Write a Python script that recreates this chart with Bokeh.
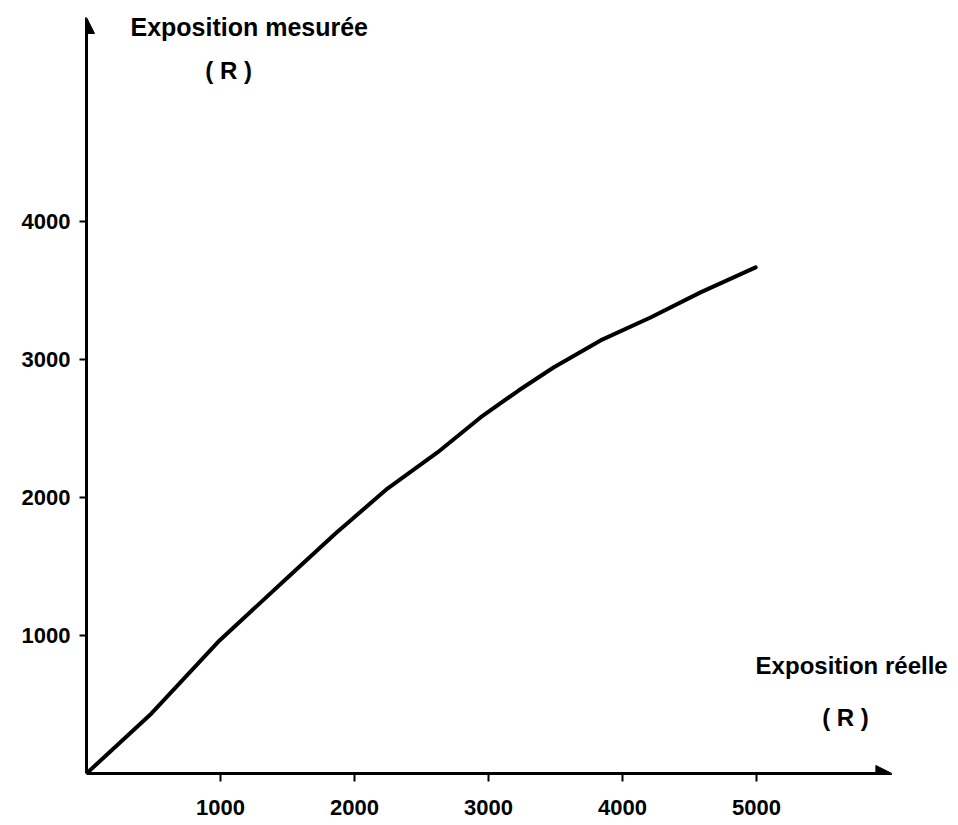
from bokeh.plotting import figure
from bokeh.models import Range1d, FixedTicker, Label, Arrow, NormalHead
from bokeh.embed import file_html
from bokeh.resources import INLINE

# data (exposition réelle vs mesurée, R)
reelle = [0, 485, 993, 1493, 1858, 2246, 2619, 2940, 3224, 3485, 3836, 4209, 4582, 4993]
mesuree = [0, 435, 964, 1413, 1739, 2065, 2326, 2580, 2775, 2942, 3138, 3304, 3486, 3667]
x_ticks = [1000, 2000, 3000, 4000, 5000]
y_ticks = [1000, 2000, 3000, 4000]

FONT = "Liberation Sans"

p = figure(width=958, height=825, output_backend="svg", toolbar_location=None,
           x_range=Range1d(0, 6507), y_range=Range1d(0, 5601),
           min_border_left=86, min_border_right=0, min_border_top=0,
           min_border_bottom=52)
p.outline_line_color = None
p.grid.visible = False
p.background_fill_color = "white"
p.border_fill_color = "white"

for ax, ticks in ((p.xaxis, x_ticks), (p.yaxis, y_ticks)):
    ax.ticker = FixedTicker(ticks=ticks)
    ax.minor_tick_line_color = None
    ax.major_tick_in = 0
    ax.major_tick_line_width = 2
    ax.major_tick_line_color = "black"
    ax.axis_line_width = 3
    ax.axis_line_color = "black"
    ax.major_label_text_font = FONT
    ax.major_label_text_font_style = "bold"
    ax.major_label_text_font_size = "22px"
    ax.major_label_text_color = "black"

p.xaxis.bounds = (0, 5990)
p.yaxis.bounds = (0, 5460)
p.xaxis.major_tick_out = 8
p.xaxis.major_label_standoff = 18
p.yaxis.major_tick_out = 7
p.yaxis.major_label_standoff = 9

# axis arrow heads
p.add_layout(Arrow(end=NormalHead(size=16, fill_color="black", line_color="black"),
                   x_start=5800, y_start=0, x_end=6010, y_end=0,
                   line_width=3, line_color="black"))
p.add_layout(Arrow(end=NormalHead(size=16, fill_color="black", line_color="black"),
                   x_start=0, y_start=5300, x_end=0, y_end=5478,
                   line_width=3, line_color="black"))

p.line(reelle, mesuree, line_width=4, line_color="black",
       line_join="round", line_cap="round")

def lab(x, y, t, align, size):
    p.add_layout(Label(x=x, y=y, text=t, text_align=align, text_baseline="middle",
                       text_font=FONT, text_font_style="bold",
                       text_font_size=size, text_color="black"))

lab(328, 5406, "Exposition mesurée", "left", "25px")
lab(1060, 5094, "( R )", "center", "24px")
lab(4993, 783, "Exposition réelle", "left", "24px")
lab(5664, 406, "( R )", "center", "24px")

open("out.html", "w").write(file_html(p, INLINE))
